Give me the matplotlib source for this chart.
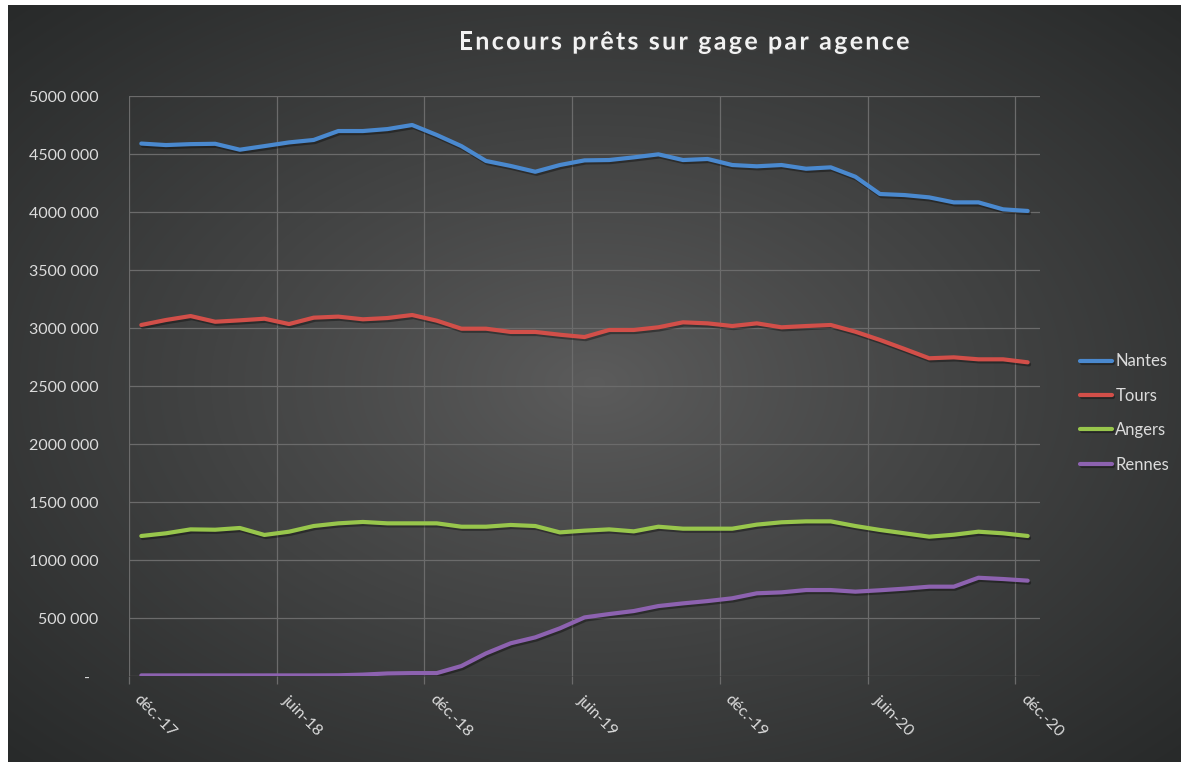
import numpy as np
import matplotlib
matplotlib.use("Agg")
import matplotlib.pyplot as plt
from matplotlib.ticker import FixedLocator, FuncFormatter
import matplotlib.patheffects as pe

plt.rcParams['font.family'] = ['Lato', 'DejaVu Sans']

# ---- data (monthly, déc-17 .. déc-20) ----
months = ['déc.-17', 'janv.-18', 'févr.-18', 'mars-18', 'avr.-18', 'mai-18', 'juin-18',
          'juil.-18', 'août-18', 'sept.-18', 'oct.-18', 'nov.-18', 'déc.-18',
          'janv.-19', 'févr.-19', 'mars-19', 'avr.-19', 'mai-19', 'juin-19',
          'juil.-19', 'août-19', 'sept.-19', 'oct.-19', 'nov.-19', 'déc.-19',
          'janv.-20', 'févr.-20', 'mars-20', 'avr.-20', 'mai-20', 'juin-20',
          'juil.-20', 'août-20', 'sept.-20', 'oct.-20', 'nov.-20', 'déc.-20']
tick_labels = ['déc.-17', 'juin-18', 'déc.-18', 'juin-19', 'déc.-19', 'juin-20', 'déc.-20']

nantes = [4590000, 4577000, 4585000, 4588000, 4537000, 4568000, 4600000, 4621000, 4698000,
          4698000, 4715000, 4750000, 4664000, 4568000, 4440000, 4397000, 4347000, 4405000,
          4445000, 4448000, 4471000, 4497000, 4448000, 4457000, 4405000, 4394000, 4405000,
          4373000, 4385000, 4304000, 4155000, 4146000, 4126000, 4083000, 4083000, 4023000,
          4009000]
tours = [3026000, 3069000, 3103000, 3054000, 3066000, 3080000, 3034000, 3089000, 3098000,
         3075000, 3086000, 3112000, 3063000, 2994000, 2994000, 2966000, 2966000, 2942000,
         2922000, 2983000, 2983000, 3006000, 3049000, 3040000, 3017000, 3040000, 3006000,
         3017000, 3026000, 2968000, 2897000, 2819000, 2739000, 2747000, 2730000, 2730000,
         2704000]
angers = [1207000, 1230000, 1264000, 1261000, 1276000, 1216000, 1244000, 1293000, 1316000,
          1328000, 1316000, 1316000, 1316000, 1287000, 1287000, 1302000, 1293000, 1238000,
          1253000, 1264000, 1247000, 1287000, 1270000, 1270000, 1270000, 1305000, 1325000,
          1333000, 1333000, 1293000, 1259000, 1230000, 1201000, 1218000, 1244000, 1230000,
          1207000]
rennes = [5000, 5000, 5000, 5000, 5000, 5000, 5000, 5000, 6000,
          12000, 22000, 25000, 25000, 86000, 195000, 282000, 333000, 411000,
          505000, 534000, 560000, 603000, 626000, 646000, 670000, 713000, 721000,
          741000, 741000, 727000, 739000, 753000, 770000, 770000, 847000, 836000,
          822000]

series = [('Nantes', nantes, '#4a89cf'),
          ('Tours', tours, '#d24f49'),
          ('Angers', angers, '#98c64c'),
          ('Rennes', rennes, '#8d62b0')]

title = 'Encours prêts sur gage par agence'

W, H = 1181, 762
fig = plt.figure(figsize=(W / 100, H / 100), dpi=100, facecolor='white')

# radial gradient background (dark Excel style)
bg = fig.add_axes([8 / W, 0, 1 - 8 / W, 1 - 5 / H])
bg.set_axis_off()
gx, gy = np.meshgrid(np.linspace(-1, 1, 600), np.linspace(-1, 1, 400))
r = np.clip(np.sqrt(gx ** 2 + gy ** 2) / np.sqrt(2), 0, 1)
edge = np.array([40, 42, 42]) / 255
center = np.array([92, 92, 92]) / 255
img = center + (edge - center) * (r[..., None] ** 0.9)
bg.imshow(img, aspect='auto', extent=[0, 1, 0, 1], interpolation='bilinear')

ax = fig.add_axes([129 / W, 1 - 676 / H, (1040 - 129) / W, (676 - 96) / H])
ax.set_facecolor('none')

x = np.arange(len(months))
for name, vals, col in series:
    ax.plot(x, vals, color=col, lw=3.0, label=name, solid_capstyle='round',
            path_effects=[pe.SimpleLineShadow(offset=(1, -1.5), shadow_color='black', alpha=0.35),
                          pe.Normal()])

ax.set_xlim(-0.5, len(months) - 0.5)
ax.set_ylim(0, 5000000)

ax.yaxis.set_major_locator(FixedLocator(np.arange(0, 5000001, 500000)))

def fmt(v, pos):
    v = int(round(v))
    if v == 0:
        return '-  '
    return f"{v // 1000} {v % 1000:03d}"

ax.yaxis.set_major_formatter(FuncFormatter(fmt))

ax.set_xticks(np.arange(0, len(months), 6))
ax.set_xticklabels(tick_labels, rotation=-45, ha='left', va='top', rotation_mode='anchor')
ax.xaxis.set_minor_locator(FixedLocator(np.arange(-0.5, len(months), 6)))

grid_col = '#6b6b6b'
ax.grid(True, axis='y', which='major', color=grid_col, lw=0.9)
ax.grid(True, axis='x', which='minor', color=grid_col, lw=0.9)
ax.set_axisbelow(True)
for s in ax.spines.values():
    s.set_visible(False)

ax.tick_params(axis='y', length=0, pad=22, labelsize=11.5, labelcolor='#dcdcdc')
ax.tick_params(axis='x', which='major', length=0, pad=12, labelsize=11.5, labelcolor='#dcdcdc')
ax.tick_params(axis='x', which='minor', length=6, width=0.9, color=grid_col, direction='out')

# title with letter spacing, drawn char by char
renderer = fig.canvas.get_renderer()
tracking = 2.3
title_kw = dict(fontsize=18, fontweight='bold', color='#f2f2f2', va='center', ha='left',
                path_effects=[pe.withSimplePatchShadow(offset=(1, -1), alpha=0.4)])
widths = []
for ch in title:
    t = fig.text(0, 0, ch if ch != ' ' else 'a', **title_kw)
    bb = t.get_window_extent(renderer)
    widths.append(bb.width if ch != ' ' else bb.width * 0.45)
    t.remove()
total = sum(widths) + tracking * (len(title) - 1)
xpos = 684 - total / 2
for ch, w in zip(title, widths):
    if ch != ' ':
        fig.text(xpos / W, 1 - 42 / H, ch, **title_kw)
    xpos += w + tracking

leg = ax.legend(loc='center left', bbox_to_anchor=(1072 / W, 1 - 413 / H),
                bbox_transform=fig.transFigure, frameon=False, fontsize=12,
                handlelength=1.9, handletextpad=0.2, labelspacing=1.1, borderpad=0)
for t in leg.get_texts():
    t.set_color('#dcdcdc')
for h in leg.get_lines():
    h.set_linewidth(3.0)

fig.savefig('out.png', dpi=100, facecolor=fig.get_facecolor())
